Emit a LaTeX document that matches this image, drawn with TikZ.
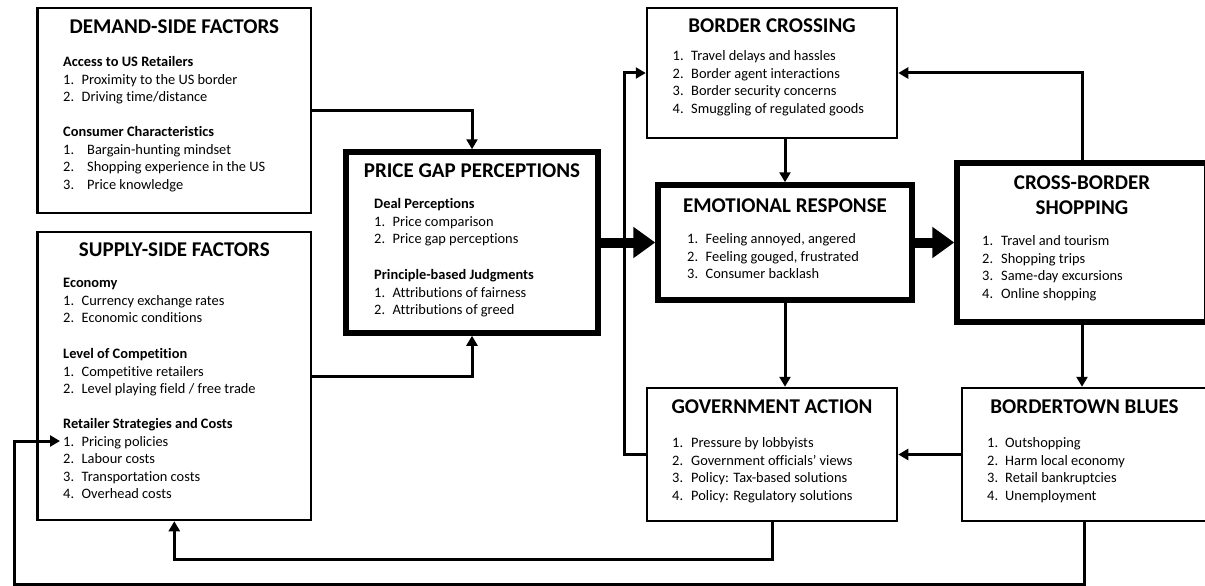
\documentclass[tikz,border=0pt]{standalone}
\usepackage{fontspec}
\setmainfont{Carlito}[Ligatures=NoCommon]
\usetikzlibrary{arrows.meta,calc}
\newcommand\nm[2][18.5pt]{\makebox[#1][l]{#2.}}
\newcommand\itemfont{\fontsize{14.4}{17.5}\selectfont}
\newcommand\headfont{\fontsize{21}{25}\selectfont\bfseries}

\begin{document}
\begin{tikzpicture}[x=1pt,y=-1pt,
	box/.style={draw, line width=2.5pt, inner sep=0pt},
	thickbox/.style={draw, line width=5.5pt, inner sep=0pt},
	head/.style={inner sep=0pt, anchor=base, font=\headfont},
	lst/.style={inner sep=0pt, anchor=north west, font=\itemfont},
	conn/.style={line width=3pt, -{Triangle[length=10pt,width=11pt]}},
	big/.style={line width=10pt, -{Triangle[length=22pt,width=30pt]}}]
			%%%%% START %%%%%
			\useasboundingbox (0,0) rectangle (1205,586);
			
			% boxes
			\node[box, minimum width=273.4pt, minimum height=205pt] (dem) at (174.3,110.5) {};
			\node[box, minimum width=273.4pt, minimum height=288pt] (sup) at (174.3,376) {};
			\node[thickbox, minimum width=252pt, minimum height=181pt] (pg) at (472,242.5) {};
			\node[box, minimum width=250pt, minimum height=130pt] (bc) at (772,73) {};
			\node[thickbox, minimum width=254pt, minimum height=115pt] (er) at (785,242.5) {};
			\node[thickbox, minimum width=250pt, minimum height=159pt] (cb) at (1082,242.5) {};
			\node[box, minimum width=250pt, minimum height=133pt] (gov) at (772,454.5) {};
			\node[box, minimum width=245pt, minimum height=133pt] (bb) at (1084.5,454.5) {};
			
			% titles
			\node[head] (demT) at (174.3,33.5) {DEMAND-SIDE FACTORS};
			\node[head] (supT) at (174.3,256.5) {SUPPLY-SIDE FACTORS};
			\node[head] (pgT) at (472,177.5) {PRICE GAP PERCEPTIONS};
			\node[head] (bcT) at (772,32.5) {BORDER CROSSING};
			\node[head] (erT) at (785,212.5) {EMOTIONAL RESPONSE};
			\node[head] (cbTa) at (1082,189.5) {CROSS-BORDER};
			\node[head] (cbTb) at (1082,214.5) {SHOPPING};
			\node[head] (govT) at (772,413.5) {GOVERNMENT ACTION};
			\node[head] (bbT) at (1084.5,413.5) {BORDERTOWN BLUES};
			
			% lists
			\node[lst] (demL) at (63,54.25) {\begin{tabular}{@{}l@{}}
				\textbf{Access to US Retailers}\\
				\nm{1}Proximity to the US border\\
				\nm{2}Driving time/distance\\[17.5pt]
				\textbf{Consumer Characteristics}\\
				\nm[24pt]{1}Bargain-hunting mindset\\
				\nm[24pt]{2}Shopping experience in the US\\
				\nm[24pt]{3}Price knowledge
			\end{tabular}};
			\node[lst] (supL) at (63,275.25) {\begin{tabular}{@{}l@{}}
				\textbf{Economy}\\
				\nm{1}Currency exchange rates\\
				\nm{2}Economic conditions\\[18.5pt]
				\textbf{Level of Competition}\\
				\nm{1}Competitive retailers\\
				\nm{2}Level playing field / free trade\\[17.5pt]
				\textbf{Retailer Strategies and Costs}\\
				\nm{1}Pricing policies\\
				\nm{2}Labour costs\\
				\nm{3}Transportation costs\\
				\nm{4}Overhead costs
			\end{tabular}};
			\node[lst] (pgL) at (374,196.25) {\begin{tabular}{@{}l@{}}
				\textbf{Deal Perceptions}\\
				\nm{1}Price comparison\\
				\nm{2}Price gap perceptions\\[18.5pt]
				\textbf{Principle-based Judgments}\\
				\nm{1}Attributions of fairness\\
				\nm{2}Attributions of greed
			\end{tabular}};
			\node[lst] (bcL) at (672.5,48.25) {\begin{tabular}{@{}l@{}}
				\nm{1}Travel delays and hassles\\
				\nm{2}Border agent interactions\\
				\nm{3}Border security concerns\\
				\nm{4}Smuggling of regulated goods
			\end{tabular}};
			\node[lst] (erL) at (687,231.25) {\begin{tabular}{@{}l@{}}
				\nm{1}Feeling annoyed, angered\\
				\nm{2}Feeling gouged, frustrated\\
				\nm{3}Consumer backlash
			\end{tabular}};
			\node[lst] (cbL) at (982,233.25) {\begin{tabular}{@{}l@{}}
				\nm[19pt]{1}Travel and tourism\\
				\nm[19pt]{2}Shopping trips\\
				\nm[19pt]{3}Same-day excursions\\
				\nm[19pt]{4}Online shopping
			\end{tabular}};
			\node[lst] (govL) at (672,435.25) {\begin{tabular}{@{}l@{}}
				\nm[19pt]{1}Pressure by lobbyists\\
				\nm[19pt]{2}Government officials’ views\\
				\nm[19pt]{3}Policy: Tax-based solutions\\
				\nm[19pt]{4}Policy: Regulatory solutions
			\end{tabular}};
			\node[lst] (bbL) at (987,435.25) {\begin{tabular}{@{}l@{}}
				\nm[18pt]{1}Outshopping\\
				\nm[18pt]{2}Harm local economy\\
				\nm[18pt]{3}Retail bankruptcies\\
				\nm[18pt]{4}Unemployment
			\end{tabular}};
			
			% connectors
			\coordinate (loopG) at (624,454.5);
			\coordinate (loopL) at (14,584);
			\coordinate (prc) at (60,441);
			
			\draw[conn] (dem.east) -| (pg.north);
			\draw[conn] (sup.east) -| (pg.south);
			\draw[big] (pg.east) -- (er.west);
			\draw[big] (er.east) -- (cb.west);
			\draw[conn] (er.north |- bc.south) -- (er.north);
			\draw[conn] (er.south) -- (er.south |- gov.north);
			\draw[conn] (cb.north) |- (bc.east);
			\draw[conn] (cb.south) -- (cb.south |- bb.north);
			\draw[conn] (bb.west) -- (gov.east);
			\draw[conn] (gov.west) -- (loopG) |- (bc.west);
			\draw[conn] (gov.south) -- ++(0,37) -| (sup.south);
			\draw[conn] (bb.south) |- (loopL) |- (prc);
			%%%%% END %%%%%
\end{tikzpicture}
\end{document}
